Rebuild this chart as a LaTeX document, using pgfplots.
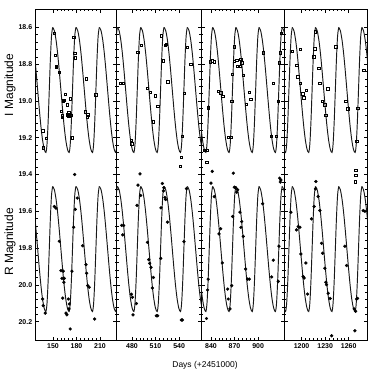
\documentclass[border=0pt]{standalone}
\usepackage{fontspec}
\setmainfont{Liberation Sans}
\usepackage{pgfplots}
\pgfplotsset{compat=1.18}
\usepackage{pgfplotstable}

% one cycle of the fitted light curve (days after maximum, I and R magnitudes)
\pgfplotstableread{
t I R
0 18.600 19.465
2.1 18.617 19.482
4.2 18.665 19.530
6.3 18.740 19.605
8.4 18.835 19.700
10.5 18.940 19.805
12.6 19.045 19.910
14.7 19.140 20.005
16.8 19.215 20.080
18.9 19.263 20.128
21.0 19.280 20.145
22.43 19.234 20.099
23.87 19.110 19.975
25.3 18.940 19.805
26.73 18.770 19.635
28.17 18.646 19.511
29.6 18.600 19.465
}\cyc

\pgfplotstableread{
d m
151.7 18.633
152.9 18.751
153.8 18.811
154.4 18.815
158.0 18.845
165.3 18.964
163.6 18.996
163.1 19.002
168.2 19.020
172.0 18.989
160.6 19.056
161.5 19.087
162.0 19.080
167.8 19.074
170.0 19.062
170.2 19.080
172.6 19.078
174.2 19.200
176.4 18.654
177.7 18.742
178.4 18.766
192.0 18.880
190.8 19.058
194.2 19.074
193.8 19.085
204.4 18.967
136.9 19.163
137.7 19.254
141.1 19.203
}\IA
\pgfplotstableread{
d m
151.7 19.574
153.8 19.583
158.0 19.763
160.2 19.923
163.1 19.926
161.5 19.965
164.4 19.965
164.0 19.986
162.4 20.072
166.6 20.154
167.8 20.163
169.5 20.077
170.8 20.104
170.4 20.131
172.0 20.240
174.2 19.926
176.4 19.687
178.4 19.590
181.0 19.528
177.7 19.400
187.8 19.787
192.0 19.890
192.9 19.937
194.2 20.004
196.2 20.013
203.1 20.186
136.9 20.077
137.7 20.113
140.2 20.154
}\RA
\pgfplotstableread{
d m
465.6 18.902
468.2 18.902
478.7 19.214
479.6 19.232
487.3 18.736
491.5 18.696
499.6 18.932
502.9 18.954
509.8 18.971
512.7 19.029
507.3 19.114
517.5 18.646
520.0 18.782
522.0 18.696
523.3 18.693
525.5 18.896
543.7 19.192
546.2 18.959
550.1 18.709
554.8 18.800
542.9 19.305
541.1 19.354
}\IB
\pgfplotstableread{
d m
487.6 19.458
486.4 19.568
491.1 19.514
490.2 19.397
469.4 19.677
466.9 19.677
468.2 19.728
479.2 20.051
480.5 20.068
481.3 20.163
485.6 20.102
499.6 19.769
501.3 19.863
502.5 19.883
504.2 19.905
507.3 19.960
506.0 20.017
511.1 20.168
512.7 20.168
516.6 19.856
516.9 19.581
518.7 19.449
520.0 19.489
522.0 19.525
522.9 19.536
525.1 19.659
542.9 20.191
544.2 20.191
546.2 19.765
549.3 19.477
520.7 19.472
}\RB
\pgfplotstableread{
d m
838.7 18.787
841.7 18.782
844.2 18.787
849.3 18.946
852.4 18.956
854.9 18.974
836.2 19.036
831.1 19.269
835.3 19.269
834.5 19.332
866.4 19.000
867.1 18.855
869.3 18.784
872.7 18.778
869.7 18.706
873.5 18.811
876.9 18.811
877.8 18.774
879.1 18.793
881.1 18.860
862.0 19.196
865.0 19.196
884.6 19.018
888.8 18.951
890.6 18.991
906.6 18.738
916.4 19.191
922.8 19.191
919.4 18.905
925.7 19.003
926.6 18.793
927.9 18.738
929.2 18.633
}\IC
\pgfplotstableread{
d m
840.0 19.447
841.7 19.383
844.2 19.520
836.4 19.969
835.6 20.028
834.3 20.183
850.2 19.723
852.4 19.695
854.4 19.881
861.3 20.023
862.0 20.077
864.2 20.131
866.4 20.004
867.6 19.628
868.4 19.393
869.7 19.469
871.5 19.472
872.7 19.496
874.0 19.483
876.9 19.605
879.1 19.656
878.2 19.687
881.1 19.737
884.2 19.914
886.6 19.969
888.7 19.969
905.9 19.559
917.3 19.957
919.4 19.866
925.7 19.981
926.6 19.790
928.3 19.441
927.5 19.420
929.0 19.430
}\RC
\pgfplotstableread{
d m
1188.0 18.728
1194.0 18.805
1195.3 18.869
1198.2 18.902
1198.2 18.720
1201.7 18.960
1202.9 18.982
1205.9 18.942
1216.6 18.715
1217.3 18.624
1215.7 18.760
1221.7 18.823
1222.9 18.905
1226.2 19.002
1229.3 19.020
1230.6 19.078
1233.5 18.934
1243.3 18.706
1256.0 19.002
1259.0 19.042
1271.7 19.038
1270.4 19.220
1268.8 19.376
1268.8 19.403
1268.2 19.440
1279.0 18.833
}\ID
\pgfplotstableread{
d m
1186.4 19.605
1193.6 19.701
1195.7 19.683
1197.8 19.687
1199.1 19.832
1202.0 19.955
1203.3 19.963
1205.5 19.881
1207.6 20.050
1212.7 19.641
1216.0 19.574
1217.8 19.478
1218.2 19.438
1221.1 19.520
1223.3 19.596
1225.4 19.774
1226.8 19.828
1229.7 19.910
1231.0 19.986
1231.8 19.999
1233.9 20.046
1236.4 20.074
1238.2 20.277
1255.2 19.790
1257.3 19.895
1267.0 20.131
1268.8 20.144
1270.0 20.077
1271.3 20.074
1267.9 20.250
1278.5 19.596
1280.6 19.600
}\RD

\pgfplotsset{
  panel/.style={
    scale only axis, height=331bp, anchor=south west,
    y dir=reverse, ymin=18.5, ymax=20.3,
    ytick={18.6,18.8,19.0,19.2,19.4,19.6,19.8,20.0,20.2},
    minor y tick num=4, minor x tick num=5,
    xtick pos=both, ytick pos=both, tick align=inside,
    major tick length=3.5bp, minor tick length=2bp,
    tick style={black, line width=0.6pt},
    axis line style={black, line width=0.9pt},
    /pgf/number format/assume math mode=true,
    /pgf/number format/1000 sep={},
    scaled x ticks=false,
    x tick label style={font=\bfseries\fontsize{7}{8}\selectfont},
    y tick label style={font=\bfseries\fontsize{7}{8}\selectfont,
      /pgf/number format/.cd, fixed, fixed zerofill, precision=1, /tikz/.cd},
  },
  curve/.style={black!90, line width=0.95pt, smooth, no markers},
  iobs/.style={only marks, mark=square, mark size=1.2bp, mark options={black, line width=0.45pt}},
  robs/.style={only marks, mark=*, mark size=1.45bp, mark options={black}},
}

\newcommand{\curves}[1]{%
  \pgfplotsinvokeforeach{#1}{%
    \addplot[curve] table[x expr=\thisrow{t}+##1, y=I]{\cyc};
    \addplot[curve] table[x expr=\thisrow{t}+##1, y=R]{\cyc};
  }%
}

\begin{document}
\begin{tikzpicture}
\path[use as bounding box] (0,0) rectangle (375bp,375bp);

\begin{axis}[panel, at={(35.7bp,35bp)}, width=81bp, xmin=128.0, xmax=231.2, xtick={150,180,210}]
\curves{120.0,149.6,179.4,209.1}
\addplot[iobs] table[x=d,y=m]{\IA};
\addplot[robs] table[x=d,y=m]{\RA};
\end{axis}

\begin{axis}[panel, at={(116.7bp,35bp)}, width=84.3bp, xmin=460.5, xmax=567.9, xtick={480,510,540}, yticklabels={}]
\curves{431.8,461.4,491.1,520.8,550.5}
\addplot[iobs] table[x=d,y=m]{\IB};
\addplot[robs] table[x=d,y=m]{\RB};
\end{axis}

\begin{axis}[panel, at={(201bp,35bp)}, width=83.3bp, xmin=827.3, xmax=933.4, xtick={840,870,900}, yticklabels={}]
\curves{812.5,842.1,871.6,901.1,930.6}
\addplot[iobs] table[x=d,y=m]{\IC};
\addplot[robs] table[x=d,y=m]{\RC};
\end{axis}

\begin{axis}[panel, at={(284.3bp,35bp)}, width=83bp, xmin=1178.0, xmax=1283.7, xtick={1200,1230,1260}, yticklabels={}]
\curves{1158.6,1188.1,1217.7,1247.2,1276.7}
\addplot[iobs] table[x=d,y=m]{\ID};
\addplot[robs] table[x=d,y=m]{\RD};
\end{axis}

\node[rotate=90, font=\fontsize{12}{14}\selectfont] at (10bp,290bp) {I Magnitude};
\node[rotate=90, font=\fontsize{12}{14}\selectfont] at (10bp,133bp) {R Magnitude};
\node[font=\fontsize{8.5}{10}\selectfont] at (205bp,10bp) {Days (+2451000)};
\end{tikzpicture}
\end{document}
